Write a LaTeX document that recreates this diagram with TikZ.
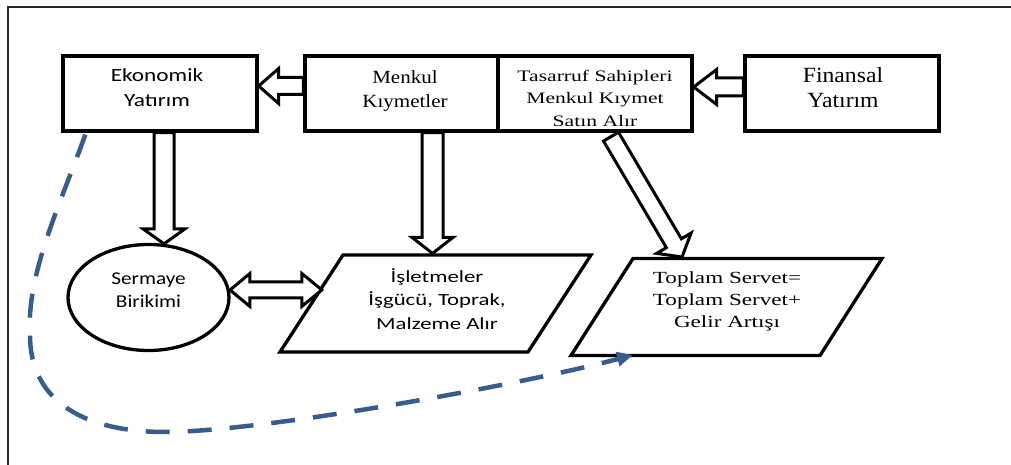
\documentclass[tikz,border=0pt]{standalone}
\usepackage{fontspec}
\usetikzlibrary{calc,shapes.geometric,arrows.meta}

% Label fonts (Carlito ~ Calibri, Liberation Serif ~ Times), widened per label
\newfontfamily\fEko{Carlito}[FakeStretch=1.25]
\newfontfamily\fMen{Liberation Serif}[FakeStretch=1.13]
\newfontfamily\fTas{Liberation Serif}[FakeStretch=1.35]
\newfontfamily\fFin{Liberation Serif}[FakeStretch=1.09]
\newfontfamily\fSer{Carlito}[FakeStretch=1.18]
\newfontfamily\fIsl{Carlito}[FakeStretch=1.34]
\newfontfamily\fTop{Liberation Serif}[FakeStretch=1.36]

\definecolor{flowblue}{RGB}{56,93,138}

% Hollow block arrow: #1 tail, #2 tip, #3 half shaft width, #4 half head width, #5 head length
\newcommand\bigarrow[5]{%
  \coordinate (ba-h) at ($(#2)!#5!(#1)$);
  \draw[blockarr] ($(#1)!#3!90:(#2)$) -- ($(ba-h)!#3!-90:(#1)$) -- ($(ba-h)!#4!-90:(#1)$)
    -- (#2) -- ($(ba-h)!#4!90:(#1)$) -- ($(ba-h)!#3!90:(#1)$) -- ($(#1)!#3!-90:(#2)$) -- cycle;
}
% Hollow two-headed block arrow between tips #1 and #2
\newcommand\twinarrow[5]{%
  \coordinate (ta-a) at ($(#1)!#5!(#2)$);
  \coordinate (ta-b) at ($(#2)!#5!(#1)$);
  \draw[blockarr] (#1) -- ($(ta-a)!#4!90:(#2)$) -- ($(ta-a)!#3!90:(#2)$) -- ($(ta-b)!#3!-90:(#1)$)
    -- ($(ta-b)!#4!-90:(#1)$) -- (#2) -- ($(ta-b)!#4!90:(#1)$) -- ($(ta-b)!#3!90:(#1)$)
    -- ($(ta-a)!#3!-90:(#2)$) -- ($(ta-a)!#4!-90:(#2)$) -- cycle;
}

\begin{document}
\begin{tikzpicture}[x=1pt,y=1pt,
  box/.style={draw, line width=3.3pt, fill=white, minimum width=194pt, minimum height=75pt, inner sep=0pt},
  blockarr/.style={draw, fill=white, line width=3pt, line join=miter},
  shapeline/.style={draw, line width=3.3pt, line join=miter},
  lbl/.style={inner sep=0pt, align=center, text=black},
  loopline/.style={draw=flowblue, line width=4.5pt, dash pattern=on 24pt off 18pt,
    -{Triangle[length=16pt,width=14pt]}}]
\useasboundingbox (0,0) rectangle (1011,465);
\fill[white] (0,0) rectangle (1011,465);

% frame
\draw[line width=2pt, black!85] (8,0) -- (8,458) -- (1011,458);

% top row of boxes
\node[box] (eko) at (160,371.5) {};
\node[box, minimum width=193pt] (men) at (401.5,371.5) {};
\node[box] (tas) at (595,371.5) {};
\node[box] (fin) at (842,371.5) {};

% capital accumulation
\node[draw, ellipse, line width=3.3pt, minimum width=161pt, minimum height=106pt, inner sep=0pt] (ser) at (148.5,167.5) {};

% firms (parallelogram)
\coordinate (isl-bl) at (280,113);
\coordinate (isl-br) at (528,113);
\coordinate (isl-tr) at (591,210);
\coordinate (isl-tl) at (343,210);
\draw[shapeline] (isl-bl) -- (isl-br) -- (isl-tr) -- (isl-tl) -- cycle;

% total wealth (parallelogram)
\coordinate (top-bl) at (571,109.5);
\coordinate (top-br) at (820,109.5);
\coordinate (top-tr) at (882,206.5);
\coordinate (top-tl) at (633,206.5);
\draw[shapeline] (top-bl) -- (top-br) -- (top-tr) -- (top-tl) -- cycle;

% labels
\node[lbl, font={\fEko\fontsize{18.6pt}{25pt}\selectfont}] (eko-t) at (157,377.5) {Ekonomik\\Yatırım};
\node[lbl, font={\fMen\fontsize{18.6pt}{24pt}\selectfont}] (men-t) at (405,374.3) {Menkul\\Kıymetler};
\node[lbl, font={\fTas\fontsize{16pt}{22.5pt}\selectfont}] (tas-t) at (595,367) {Tasarruf Sahipleri\\Menkul Kıymet\\Satın Alır};
\node[lbl, font={\fFin\fontsize{21.7pt}{25pt}\selectfont}] (fin-t) at (843,377) {Finansal\\Yatırım};
\node[lbl, font={\fSer\fontsize{18pt}{23pt}\selectfont}] (ser-t) at (148.5,175.3) {Sermaye\\Birikimi};
\node[lbl, font={\fIsl\fontsize{17pt}{23.5pt}\selectfont}] (isl-t) at (437,166.3) {İşletmeler\\İşgücü, Toprak,\\Malzeme Alır};
\node[lbl, font={\fTop\fontsize{17pt}{22pt}\selectfont}] (top-t) at (727,164) {Toplam Servet=\\Toplam Servet+\\Gelir Artışı};

% block arrows
\coordinate (a1s) at ($(men.west)+(0,7.5)$);
\coordinate (a1e) at ($(eko.east)+(0,7.5)$);
\bigarrow{a1s}{a1e}{8.5pt}{17.5pt}{20pt}

\coordinate (a2s) at ($(fin.west)+(0,6.5)$);
\coordinate (a2e) at ($(tas.east)+(0,6.5)$);
\bigarrow{a2s}{a2e}{9pt}{17.5pt}{23pt}

\coordinate (a3s) at ($(eko.south)+(4,0)$);
\coordinate (a3e) at ($(ser.north)+(15.5,-1)$);
\bigarrow{a3s}{a3e}{10pt}{21pt}{15pt}

\coordinate (a4s) at ($(men.south)+(31,0)$);
\coordinate (a4e) at ($(a4s |- isl-tl)+(0,1.6)$);
\bigarrow{a4s}{a4e}{10.5pt}{20.5pt}{16pt}

\coordinate (a5s) at ($(tas.south)+(16,-4)$);
\coordinate (a5e) at ($(top-tl)+(49,1.5)$);
\bigarrow{a5s}{a5e}{8.7pt}{20pt}{16pt}

\coordinate (a6a) at ($(ser.east)+(-0.7,7.5)$);
\coordinate (a6b) at ($(isl-bl)!0.64!(isl-tl)+(1.5,0)$);
\twinarrow{a6a}{a6b}{8pt}{16.5pt}{20pt}

% dashed feedback loop
\coordinate (d-s) at ($(eko.south west)+(24,-2)$);
\coordinate (d-e) at ($(top-bl)+(62,0.5)$);
\draw[loopline] (d-s) .. controls (60,260) and (26,190) .. (30,130)
  .. controls (30,60) and (90,33) .. (165,33)
  .. controls (260,33) and (520,80) .. (d-e);
\end{tikzpicture}
\end{document}
